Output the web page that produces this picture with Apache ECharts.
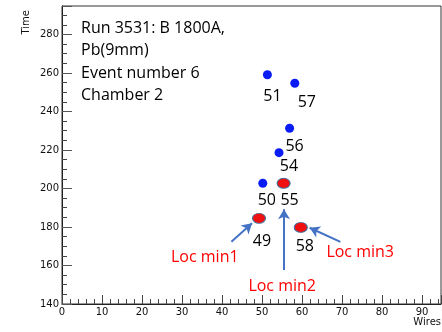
<!DOCTYPE html>
<html>
<head>
<meta charset="utf-8">
<script src="https://cdn.jsdelivr.net/npm/echarts@6/dist/echarts.min.js"></script>
<style>html,body{margin:0;padding:0;background:#fff}#c{width:442px;height:332px}</style>
</head>
<body>
<div id="c"></div>
<script>
// ---- data ----
const blueWires  = [51.35, 58.2, 56.9, 54.25, 50.2];
const blueTimes  = [259.1, 254.65, 231.3, 218.6, 202.7];
const blueLabels = ['51', '57', '56', '54', '50'];

const redWires  = [55.4, 49.25, 59.7];
const redTimes  = [202.7, 184.5, 179.8];
const redLabels = ['55', '49', '58'];

const noteTexts = ['Loc min1', 'Loc min2', 'Loc min3'];
const noteWires = [35.7, 55.05, 74.55];
const noteTimes = [164.2, 149.0, 167.0];

const arrowFrom = [[42.35, 172.3], [55.5, 157.7], [69.6, 172.3]];
const arrowTo   = [[47.5, 181.9], [55.5, 189.2], [61.9, 179.6]];

const titleLines = ['Run 3531: B 1800A,', 'Pb(9mm)', 'Event number 6', 'Chamber 2'];
const xTicks = [0, 10, 20, 30, 40, 50, 60, 70, 80, 90];
const yTicks = [140, 160, 180, 200, 220, 240, 260, 280];

// ---- label placement (styling, not data) ----
const labelOffset = {
  '51': [5, 22], '57': [12, 19], '56': [5, 18], '54': [10, 14],
  '50': [4, 17], '55': [6, 17], '49': [3, 23], '58': [4, 19]
};

const numFont = 'Open Sans';
function pts(ws, ts, ls) {
  return ws.map((w, i) => ({
    value: [w, ts[i]], name: ls[i],
    label: { offset: labelOffset[ls[i]] }
  }));
}
const ptLabel = {
  show: true, position: 'inside', formatter: p => p.name,
  color: '#000', fontFamily: numFont, fontSize: 16, opacity: 1
};

const chart = echarts.init(document.getElementById('c'), null, { renderer: 'canvas' });
chart.setOption({
  animation: false,
  backgroundColor: '#fff',
  title: {
    text: titleLines.join('\n'),
    left: 76, top: 12,
    textStyle: { fontFamily: numFont, fontSize: 16, fontWeight: 'normal', color: '#000', lineHeight: 22.5 }
  },
  grid: {
    left: 62, top: 6, width: 379, height: 298,
    show: true, borderColor: '#333', borderWidth: 1, backgroundColor: 'transparent'
  },
  xAxis: {
    type: 'value', min: 0, max: 94.75, interval: 10,
    axisLine: { show: true, lineStyle: { color: '#222', width: 1 } },
    axisTick: { show: true, inside: true, length: 9, lineStyle: { color: '#444' } },
    minorTick: { show: true, splitNumber: 5, length: 5, lineStyle: { color: '#444' } },
    splitLine: { show: false },
    axisLabel: {
      margin: 3, color: '#111', fontFamily: 'DejaVu Sans', fontSize: 10,
      showMaxLabel: false,
      formatter: v => (xTicks.indexOf(v) >= 0 ? String(v) : '')
    }
  },
  yAxis: {
    type: 'value', min: 140, max: 294.8, interval: 20,
    axisLine: { show: true, lineStyle: { color: '#222', width: 1 } },
    axisTick: { show: true, inside: true, length: 10, lineStyle: { color: '#555' } },
    minorTick: { show: true, splitNumber: 4, length: 5, lineStyle: { color: '#444' } },
    splitLine: { show: false },
    axisLabel: {
      margin: 3, color: '#111', fontFamily: 'DejaVu Sans', fontSize: 10,
      showMaxLabel: false,
      formatter: v => (yTicks.indexOf(v) >= 0 ? String(v) : '')
    }
  },
  graphic: [
    { type: 'text', left: 21, top: 10, rotation: Math.PI / 2,
      style: { text: 'Time', fill: '#111', font: '10px "DejaVu Sans"' } },
    { type: 'text', right: 1, top: 317,
      style: { text: 'Wires', fill: '#111', font: '10px "DejaVu Sans"' } }
  ],
  series: [
    {
      name: 'hits', type: 'scatter', symbol: 'circle', symbolSize: 9,
      itemStyle: { color: '#0a1cf5', opacity: 1 },
      label: ptLabel,
      data: pts(blueWires, blueTimes, blueLabels)
    },
    {
      name: 'minima', type: 'scatter', symbol: 'circle', symbolSize: [13, 10],
      itemStyle: { color: '#f01010', borderColor: '#41719c', borderWidth: 1, opacity: 1 },
      label: ptLabel,
      data: pts(redWires, redTimes, redLabels),
      markLine: {
        silent: true, symbol: ['none', 'arrow'], symbolSize: [9, 10],
        label: { show: false },
        lineStyle: { type: 'solid', color: '#4472c4', width: 2, opacity: 1 },
        data: arrowFrom.map((f, i) => [{ coord: f }, { coord: arrowTo[i] }])
      }
    },
    {
      name: 'notes', type: 'scatter', symbolSize: 0, silent: true,
      itemStyle: { opacity: 1 },
      label: {
        show: true, position: 'inside', formatter: p => p.name,
        color: '#ff0000', fontFamily: numFont, fontSize: 16, opacity: 1
      },
      data: noteWires.map((w, i) => ({ value: [w, noteTimes[i]], name: noteTexts[i] }))
    }
  ]
});
</script>
</body>
</html>
